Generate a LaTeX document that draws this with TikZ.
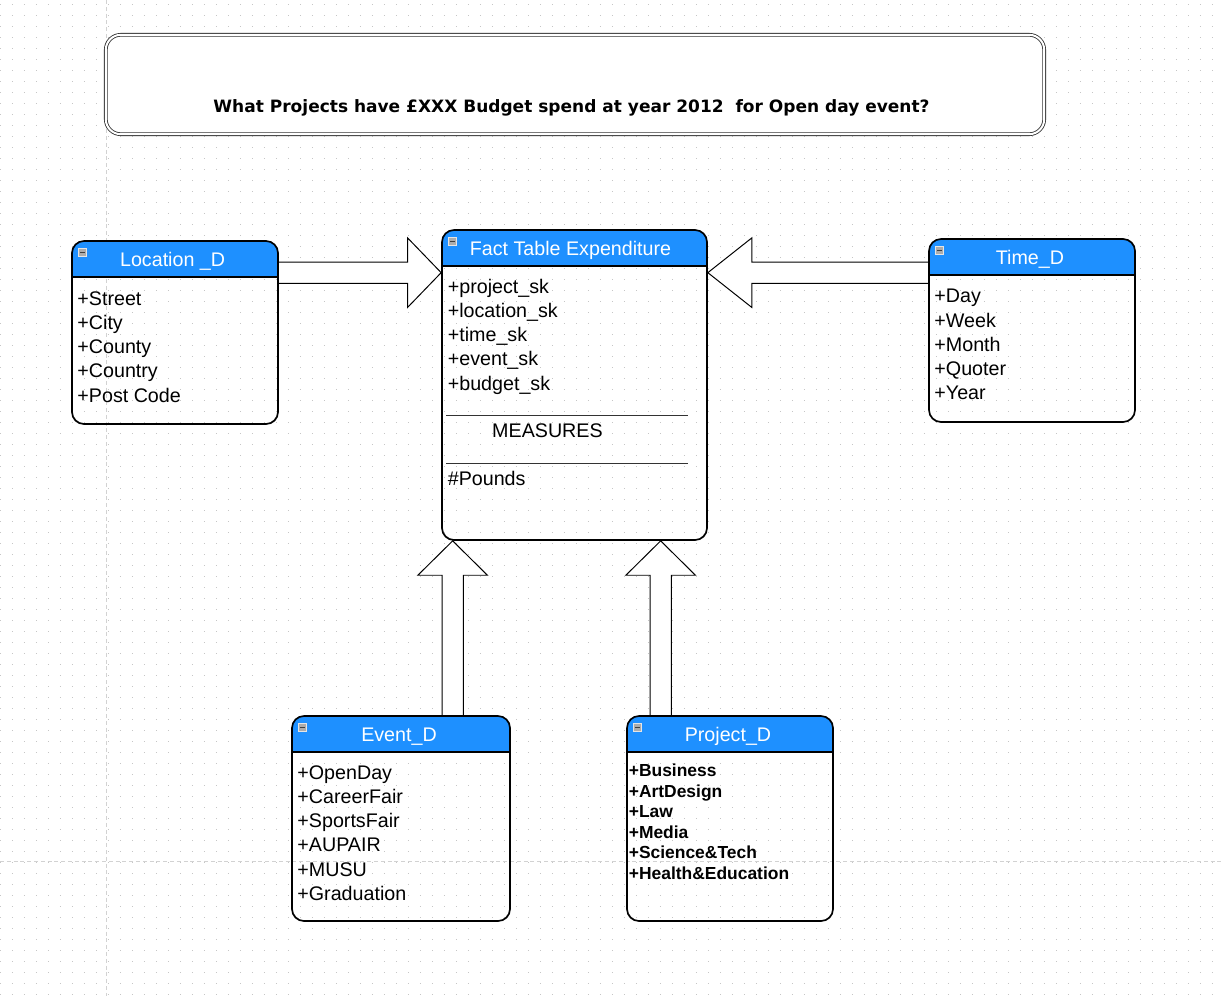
\documentclass[tikz,border=0pt]{standalone}
\usepackage{fontspec}
\setmainfont{Liberation Sans}
\newfontfamily\qfont{DejaVu Sans}
\usetikzlibrary{calc,backgrounds}
\definecolor{hdblue}{HTML}{1E90FF}

\newcommand{\fatarrow}[3][0.84cm]{%
  \draw[blockarrow] let \p1=(#2), \p2=(#3), \n1={atan2(\y2-\y1,\x2-\x1)}, \n2={veclen(\x2-\x1,\y2-\y1)} in
    [shift={(\p1)}, rotate=\n1]
    (0pt,-0.265cm) -- (\n2-#1,-0.265cm) -- (\n2-#1,-0.87cm) -- (\n2,0pt)
    -- (\n2-#1,0.87cm) -- (\n2-#1,0.265cm) -- (0pt,0.265cm);}

\tikzset{
  cls/.style={draw, line width=1.2pt, rounded corners=0.3cm, inner sep=0pt,
    path picture={
      \fill[hdblue, sharp corners] (path picture bounding box.north west) rectangle ([yshift=-0.9cm]path picture bounding box.north east);
      \draw[line width=1.2pt, sharp corners] ([yshift=-0.9cm]path picture bounding box.north west) -- ([yshift=-0.9cm]path picture bounding box.north east);
      \filldraw[fill=gray!65, draw=gray!20, line width=0.5pt, sharp corners] ([shift={(0.15cm,-0.175cm)}]path picture bounding box.north west) rectangle +(0.22cm,-0.22cm);
      \draw[black!75, line width=0.7pt] ([shift={(0.2cm,-0.285cm)}]path picture bounding box.north west) -- +(0.12cm,0);
    }},
  hdtext/.style={text=white, anchor=base, inner sep=0pt, font=\fontsize{14pt}{17pt}\selectfont},
  items/.style={anchor=north west, align=left, inner sep=0pt, font=\fontsize{14pt}{17.25pt}\selectfont},
  bitems/.style={items, font=\bfseries\fontsize{12.4pt}{14.6pt}\selectfont},
  oneline/.style={anchor=base west, inner sep=0pt, font=\fontsize{14pt}{17.25pt}\selectfont},
  qbox/.style={draw=black!80, double, double distance=1.4pt, line width=0.6pt, rounded corners=0.375cm, fill=white, inner sep=0pt},
  qtext/.style={anchor=base, inner sep=0pt, font=\qfont\bfseries\fontsize{12.1pt}{14pt}\selectfont},
  blockarrow/.style={draw, fill=white, line width=0.7pt},
  divider/.style={black!80, line width=0.7pt},
  griddot/.style={gray!45, line width=0.025cm, dash pattern=on 0.025cm off 0.275cm},
  pagebreak/.style={gray!35, line width=0.025cm, dash pattern=on 0.1cm off 0.07cm}
}

\begin{document}
\begin{tikzpicture}
  \useasboundingbox (0,0) rectangle (30.55,-24.9);

  \node[qbox, minimum width=23.46cm, minimum height=2.485cm] (q) at (14.375,-2.1125) {};
  \node[qtext] (qt) at (14.2875,-2.8) {What Projects have £XXX Budget spend at year 2012\ \ for Open day event?};

  \node[cls, minimum width=5.15cm, minimum height=4.575cm] (loc) at (4.375,-8.3125) {};
  \node[hdtext] (loct) at ([shift={(-0.06cm,-0.65cm)}]loc.north) {Location \_D};
  \node[items] (loci) at ([shift={(0.15cm,-1.275cm)}]loc.north west) {+Street\\+City\\+County\\+Country\\+Post Code};

  \node[cls, minimum width=6.625cm, minimum height=7.75cm] (fact) at (14.3625,-9.625) {};
  \node[hdtext] (factt) at ([shift={(-0.1cm,-0.65cm)}]fact.north) {Fact Table Expenditure};
  \node[items] (facti) at ([shift={(0.16cm,-1.2325cm)}]fact.north west) {+project\_sk\\+location\_sk\\+time\_sk\\+event\_sk\\+budget\_sk};
  \draw[divider] ([shift={(0.13,-4.67)}]fact.north west) -- ([shift={(6.18,-4.67)}]fact.north west);
  \node[oneline] (meas) at ([shift={(1.27,-5.21)}]fact.north west) {MEASURES};
  \draw[divider] ([shift={(0.13,-5.86)}]fact.north west) -- ([shift={(6.18,-5.86)}]fact.north west);
  \node[oneline] (pnd) at ([shift={(0.16,-6.42)}]fact.north west) {\#Pounds};

  \node[cls, minimum width=5.15cm, minimum height=4.575cm] (time) at (25.8,-8.2625) {};
  \node[hdtext] (timet) at ([shift={(-0.05cm,-0.65cm)}]time.north) {Time\_D};
  \node[items] (timei) at ([shift={(0.15cm,-1.275cm)}]time.north west) {+Day\\+Week\\+Month\\+Quoter\\+Year};

  \node[cls, minimum width=5.45cm, minimum height=5.125cm] (event) at (10.025,-20.4625) {};
  \node[hdtext] (eventt) at ([shift={(-0.05cm,-0.65cm)}]event.north) {Event\_D};
  \node[items] (eventi) at ([shift={(0.15cm,-1.25cm)}]event.north west) {+OpenDay\\+CareerFair\\+SportsFair\\+AUPAIR\\+MUSU\\+Graduation};

  \node[cls, minimum width=5.15cm, minimum height=5.125cm] (proj) at (18.25,-20.4625) {};
  \node[hdtext] (projt) at ([shift={(-0.05cm,-0.65cm)}]proj.north) {Project\_D};
  \node[bitems] (proji) at ([shift={(0.06cm,-1.22cm)}]proj.north west) {+Business\\+ArtDesign\\+Law\\+Media\\+Science\&Tech\\+Health\&Education};

  \coordinate (lf) at ([yshift=-0.8125cm]loc.north east);
  \coordinate (lt) at ([yshift=-1.0875cm]fact.north west);
  \coordinate (tf) at ([yshift=-0.8625cm]time.north west);
  \coordinate (tt) at ([yshift=-1.0875cm]fact.north east);
  \coordinate (ef) at ([xshift=4.0375cm]event.north west);
  \coordinate (et) at ([xshift=0.2875cm]fact.south west);
  \coordinate (pjf) at ([xshift=0.8625cm]proj.north west);
  \coordinate (pjt) at ([xshift=5.4875cm]fact.south west);

  \begin{scope}[on background layer]
    \foreach \k in {0,...,90}
      \draw[griddot] (0,-0.1075-0.275*\k) -- (30.55,-0.1075-0.275*\k);
    \draw[pagebreak] (2.65,0) -- (2.65,-24.9);
    \draw[pagebreak] (0,-21.53) -- (30.55,-21.53);
    \fatarrow{lf}{lt}
    \fatarrow[1.1cm]{tf}{tt}
    \fatarrow[0.86cm]{ef}{et}
    \fatarrow[0.86cm]{pjf}{pjt}
  \end{scope}
\end{tikzpicture}
\end{document}
